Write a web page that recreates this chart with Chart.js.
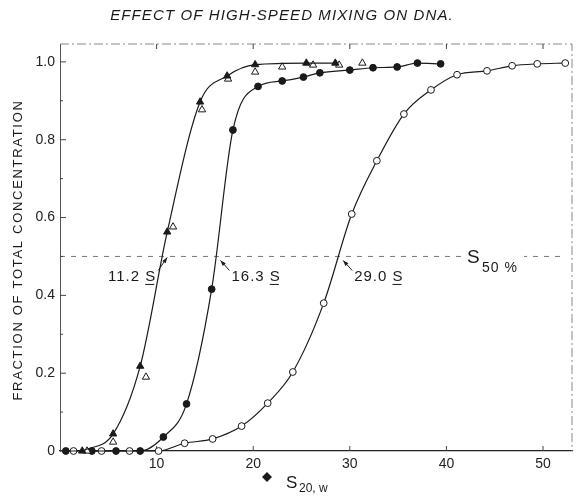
<!DOCTYPE html>
<html>
<head>
<meta charset="utf-8">
<script src="https://cdn.jsdelivr.net/npm/chart.js@4.4.0/dist/chart.umd.min.js"></script>
<style>
  body { margin: 0; background: #fff; }
  canvas { display: block; }
</style>
</head>
<body>
<canvas id="mixing-chart" width="580" height="499"></canvas>
<script>
// 11.2 S - filled triangles
const triFilledX = [2.3, 5.5, 8.3, 11.1, 14.5, 17.3, 20.2, 25.5, 28.5];
const triFilledY = [0, 0.044, 0.218, 0.563, 0.897, 0.964, 0.993, 0.997, 0.997];
// 11.2 S - open triangles
const triOpenX = [2.8, 5.5, 8.9, 11.7, 14.7, 17.4, 20.2, 23.0, 26.2, 28.9, 31.3];
const triOpenY = [0, 0.023, 0.19, 0.576, 0.877, 0.956, 0.974, 0.987, 0.992, 0.992, 0.997];
// 16.3 S - filled circles
const circFilledX = [0.6, 3.3, 5.8, 8.3, 10.7, 13.1, 15.7, 17.9, 20.5, 23.0, 25.2, 26.9, 30.0, 32.4, 34.9, 37.0, 39.4];
const circFilledY = [0, 0, 0, 0, 0.036, 0.121, 0.416, 0.825, 0.937, 0.951, 0.961, 0.972, 0.979, 0.985, 0.987, 0.997, 0.995];
// 29.0 S - open circles
const circOpenX = [1.4, 4.3, 7.2, 10.2, 12.9, 15.8, 18.8, 21.5, 24.1, 27.3, 30.2, 32.8, 35.6, 38.4, 41.1, 44.2, 46.8, 49.4, 52.3];
const circOpenY = [0, 0, 0, 0, 0.02, 0.031, 0.064, 0.123, 0.203, 0.38, 0.609, 0.746, 0.866, 0.928, 0.967, 0.977, 0.99, 0.995, 0.997];

const xTickValues = [10, 20, 30, 40, 50];
const xTickLabels = ['10', '20', '30', '40', '50'];
const yTickValues = [0, 0.2, 0.4, 0.6, 0.8, 1.0];
const yTickLabels = ['0', '0.2', '0.4', '0.6', '0.8', '1.0'];
const yMinorTicks = [0.1, 0.3, 0.5, 0.7, 0.9];

const halfLevel = 0.5;
const halfValues = [11.2, 16.3, 29.0];
const halfLabels = ['11.2', '16.3', '29.0'];

const titleText = 'EFFECT OF HIGH-SPEED MIXING ON DNA.';
const yTitleText = 'FRACTION OF TOTAL CONCENTRATION';

const toPoints = (xs, ys) => xs.map((x, i) => ({ x: x, y: ys[i] }));
const ink = '#1a1a1a';
const fontFam = '"Liberation Sans", Arial, sans-serif';

// extra drawing: titles, frame, 50% line and labels
const decor = {
  id: 'decor',
  beforeDatasetsDraw(chart) {
    const { ctx, chartArea: a, scales } = chart;
    const yh = scales.y.getPixelForValue(halfLevel);
    ctx.save();
    // frame top + right
    ctx.strokeStyle = '#888';
    ctx.lineWidth = 1;
    ctx.setLineDash([9, 3, 2, 3]);
    ctx.beginPath();
    ctx.moveTo(a.left, a.top);
    ctx.lineTo(a.right, a.top);
    ctx.lineTo(a.right, a.bottom);
    ctx.stroke();
    // dashed 50% line
    ctx.strokeStyle = '#777';
    ctx.setLineDash([5, 6]);
    ctx.beginPath();
    ctx.moveTo(a.left, yh);
    ctx.lineTo(a.right - 6, yh);
    ctx.stroke();
    ctx.setLineDash([]);
    // inward ticks
    ctx.strokeStyle = '#444';
    yTickValues.concat(yMinorTicks).forEach(v => {
      const py = scales.y.getPixelForValue(v);
      ctx.beginPath();
      ctx.moveTo(a.left, py);
      ctx.lineTo(a.left + (yTickValues.includes(v) ? 6 : 3), py);
      ctx.stroke();
    });
    xTickValues.forEach(v => {
      const px = scales.x.getPixelForValue(v);
      ctx.beginPath();
      ctx.moveTo(px, a.bottom);
      ctx.lineTo(px, a.bottom - 5);
      ctx.stroke();
      ctx.beginPath();
      ctx.moveTo(px, a.top);
      ctx.lineTo(px, a.top + 5);
      ctx.stroke();
    });
    ctx.restore();
  },
  afterDraw(chart) {
    const { ctx, scales } = chart;
    const yh = scales.y.getPixelForValue(halfLevel);
    ctx.save();
    ctx.fillStyle = ink;
    ctx.strokeStyle = ink;

    // title
    ctx.font = 'italic 15px ' + fontFam;
    ctx.letterSpacing = '1.1px';
    ctx.textAlign = 'center';
    ctx.textBaseline = 'middle';
    ctx.fillText(titleText, 282, 16);

    // y title
    ctx.save();
    ctx.translate(18, 250);
    ctx.rotate(-Math.PI / 2);
    ctx.font = '13px ' + fontFam;
    ctx.letterSpacing = '1.7px';
    ctx.fillText(yTitleText, 0, 0);
    ctx.restore();

    // x title: diamond + S20,w
    ctx.letterSpacing = '0px';
    ctx.beginPath();
    ctx.moveTo(267, 472);
    ctx.lineTo(272, 477);
    ctx.lineTo(267, 482);
    ctx.lineTo(262, 477);
    ctx.closePath();
    ctx.fill();
    ctx.textAlign = 'left';
    ctx.font = '17px ' + fontFam;
    ctx.fillText('S', 286, 483);
    ctx.font = '12px ' + fontFam;
    ctx.fillText('20, w', 299, 489);

    // 50% labels with arrows
    ctx.font = '15px ' + fontFam;
    ctx.letterSpacing = '1px';
    ctx.lineWidth = 1;
    halfValues.forEach((v, i) => {
      const xc = scales.x.getPixelForValue(v);
      const left = i === 0;
      const hx = left ? xc - 1 : xc + 3;
      const hy = yh + (left ? 1 : 4);
      const tx = left ? xc - 10 : xc + 12;
      const ty = yh + 14;
      // arrow shaft
      ctx.beginPath();
      ctx.moveTo(tx, ty);
      ctx.lineTo(hx, hy);
      ctx.stroke();
      // arrow head
      const ang = Math.atan2(hy - ty, hx - tx);
      ctx.beginPath();
      ctx.moveTo(hx, hy);
      ctx.lineTo(hx - 6 * Math.cos(ang - 0.35), hy - 6 * Math.sin(ang - 0.35));
      ctx.lineTo(hx - 6 * Math.cos(ang + 0.35), hy - 6 * Math.sin(ang + 0.35));
      ctx.closePath();
      ctx.fill();
      // text
      const main = halfLabels[i] + ' ';
      const wMain = ctx.measureText(main).width;
      const wS = ctx.measureText('S').width;
      const x0 = left ? tx - 2 - wMain - wS : tx + 2;
      const y0 = yh + 20;
      ctx.textAlign = 'left';
      ctx.fillText(main, x0, y0);
      ctx.fillText('S', x0 + wMain, y0);
      ctx.beginPath();
      ctx.moveTo(x0 + wMain, y0 + 8);
      ctx.lineTo(x0 + wMain + wS - 2, y0 + 8);
      ctx.stroke();
    });

    // S 50%
    ctx.letterSpacing = '0px';
    ctx.fillStyle = '#fff';
    ctx.fillRect(464, yh - 10, 60, 22);
    ctx.fillStyle = ink;
    ctx.font = '19px ' + fontFam;
    ctx.fillText('S', 467, yh + 1);
    ctx.font = '14px ' + fontFam;
    ctx.letterSpacing = '1px';
    ctx.fillText('50 %', 482, yh + 12);
    ctx.restore();
  }
};

const lineBase = {
  showLine: true,
  borderColor: ink,
  borderWidth: 1.2,
  cubicInterpolationMode: 'monotone',
  pointBorderColor: ink,
  pointBorderWidth: 1,
  clip: false
};

const ctx = document.getElementById('mixing-chart').getContext('2d');
new Chart(ctx, {
  type: 'scatter',
  data: {
    datasets: [
      Object.assign({}, lineBase, {
        label: '11.2 S filled',
        data: toPoints(triFilledX, triFilledY),
        pointStyle: 'triangle',
        pointRadius: 4.2,
        pointBackgroundColor: ink
      }),
      {
        label: '11.2 S open',
        data: toPoints(triOpenX, triOpenY),
        showLine: false,
        pointStyle: 'triangle',
        pointRadius: 4.2,
        pointBorderColor: ink,
        pointBorderWidth: 1,
        pointBackgroundColor: '#fff',
        clip: false
      },
      Object.assign({}, lineBase, {
        label: '16.3 S',
        data: toPoints(circFilledX, circFilledY),
        pointStyle: 'circle',
        pointRadius: 3.4,
        pointBackgroundColor: ink
      }),
      Object.assign({}, lineBase, {
        label: '29.0 S',
        data: toPoints(circOpenX, circOpenY),
        pointStyle: 'circle',
        pointRadius: 3.4,
        pointBackgroundColor: '#fff'
      })
    ]
  },
  options: {
    responsive: false,
    animation: false,
    layout: { padding: { top: 44, right: 8, left: 0, bottom: 0 } },
    plugins: {
      legend: { display: false },
      tooltip: { enabled: false },
      title: { display: false }
    },
    scales: {
      x: {
        type: 'linear',
        min: 0,
        max: 53,
        afterBuildTicks: (s) => { s.ticks = xTickValues.map(v => ({ value: v })); },
        afterFit: (s) => { s.height = 48; },
        grid: { drawOnChartArea: false, drawTicks: false },
        border: { color: '#222', width: 1.3 },
        ticks: {
          color: '#222',
          padding: 5,
          maxRotation: 0,
          font: { family: fontFam, size: 14 },
          callback: (v) => xTickLabels[xTickValues.indexOf(v)]
        }
      },
      y: {
        min: 0,
        max: 1.046,
        afterBuildTicks: (s) => { s.ticks = yTickValues.map(v => ({ value: v })); },
        afterFit: (s) => { s.width = 60; },
        grid: { drawOnChartArea: false, drawTicks: false },
        border: { color: '#555', width: 1, dash: [10, 3] },
        ticks: {
          color: '#222',
          padding: 5,
          font: { family: fontFam, size: 14 },
          callback: (v) => yTickLabels[yTickValues.indexOf(v)]
        }
      }
    }
  },
  plugins: [decor]
});
</script>
</body>
</html>
